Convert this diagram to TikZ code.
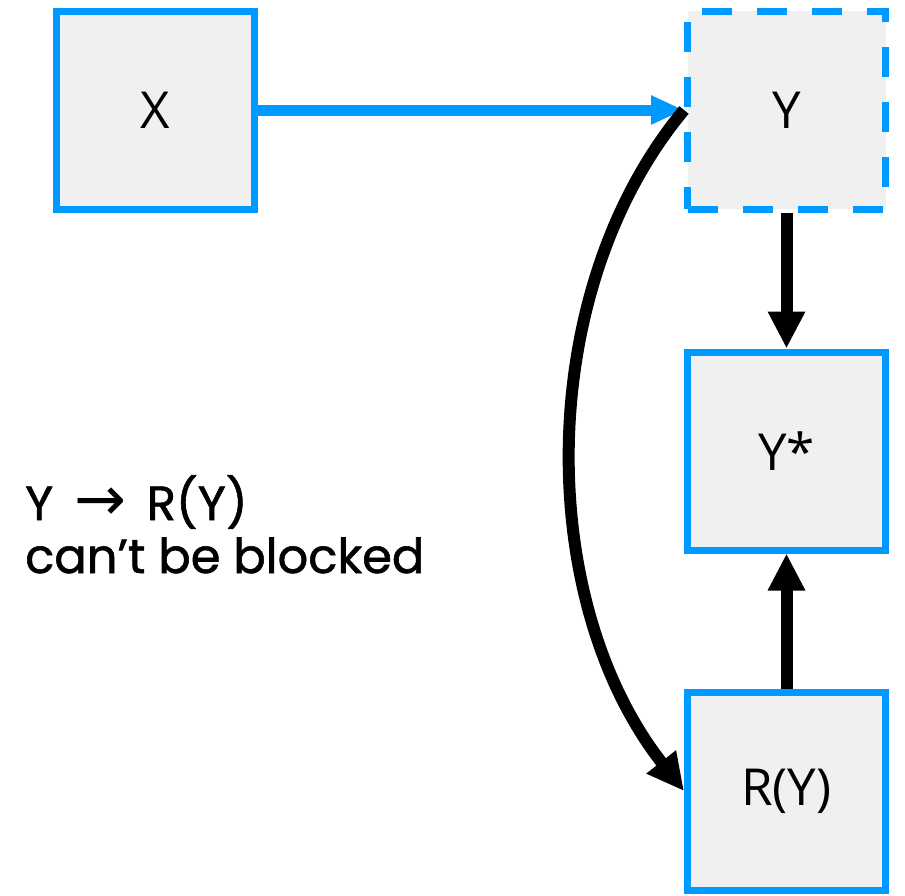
\documentclass[tikz,border=0pt]{standalone}
\usepackage{fontspec}
\usetikzlibrary{arrows.meta}
\newfontfamily\boxfont{Open Sans}
\newfontfamily\notefont{Poppins}[FakeBold=1.2]
\newfontfamily\arrowfont{DejaVu Sans}
\definecolor{boxblue}{HTML}{0099FF}
\definecolor{boxfill}{HTML}{F0F0F0}
\tikzset{
  varbox/.style={draw=boxblue, fill=boxfill, line width=7pt, minimum width=198pt,
    minimum height=198pt, inner sep=0pt, font=\boxfont\fontsize{51}{58}\selectfont},
  latentbox/.style={varbox, dash pattern=on 30pt off 25pt},
  bluearrow/.style={draw=boxblue, line width=11pt,
    -{Triangle[length=33pt,width=27pt]}},
  blackarrow/.style={draw=black, line width=12pt,
    -{Triangle[length=37pt,width=35pt]}},
}
\begin{document}
\begin{tikzpicture}[x=1pt,y=-1pt]
  \useasboundingbox[fill=white] (0,0) rectangle (905,895);
  \node[varbox] (X) at (155.5,110) {X};
  \node[latentbox] (Y) at (786.5,110) {Y};
  \node[varbox] (Ys) at (786.5,451) {Y*};
  \node[varbox] (RY) at (786.5,791) {R(Y)};
  \draw[bluearrow] (X.east) -- (Y.west);
  \draw[blackarrow] (Y.south) -- (Ys.north);
  \draw[blackarrow] (RY.north) -- (Ys.south);
  \draw[blackarrow] (Y.west) .. controls (534,290) and (534,600) .. (RY.west);
  \node[anchor=base west, align=left, inner sep=0pt,
    font=\notefont\fontsize{48}{53}\selectfont] (note) at (25,573)
    {Y\, {\arrowfont\fontsize{62}{53}\selectfont→}\, R(Y)\\can’t be blocked};
\end{tikzpicture}
\end{document}
